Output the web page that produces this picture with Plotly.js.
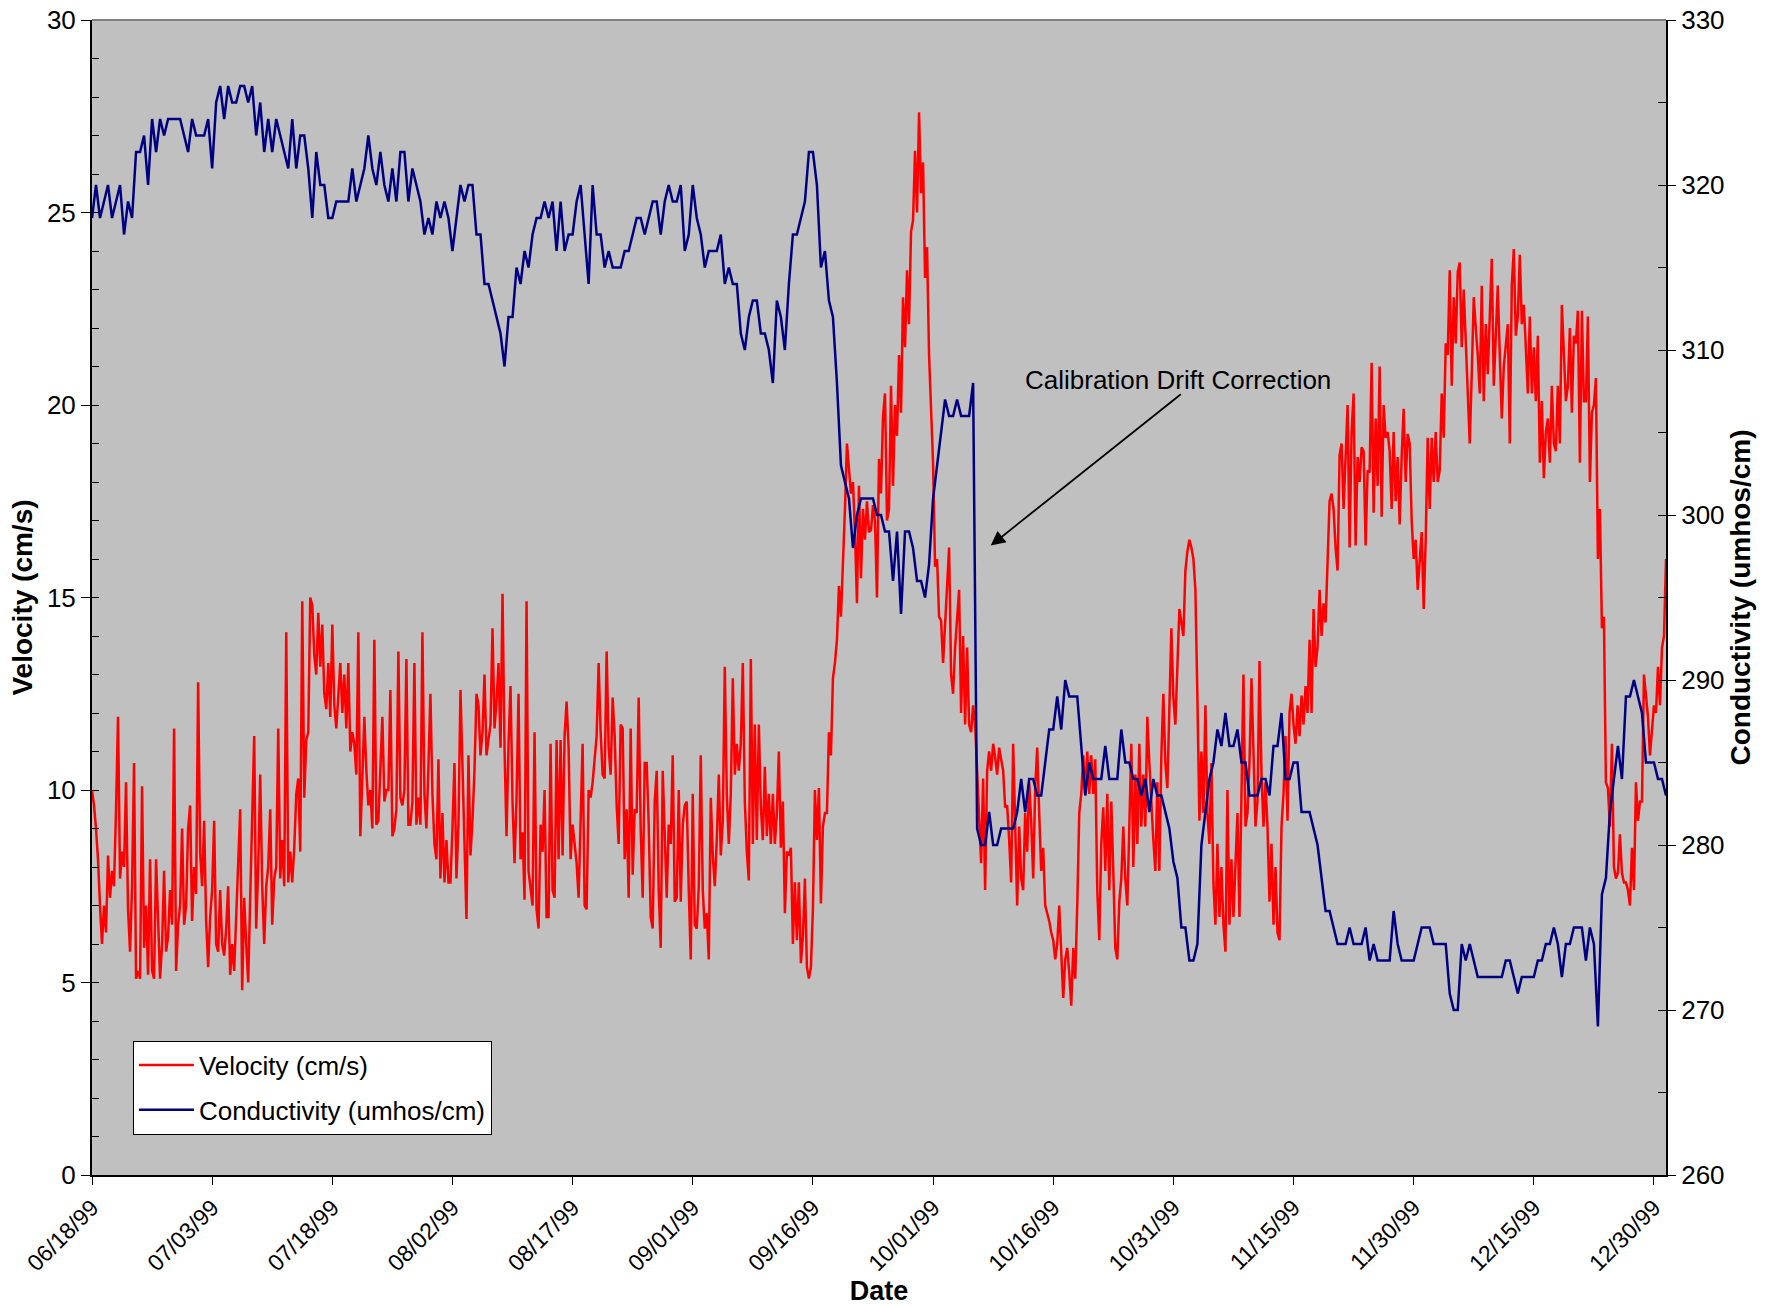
<!DOCTYPE html>
<html>
<head>
<meta charset="utf-8">
<script src="https://cdn.plot.ly/plotly-3.0.1.min.js"></script>
<style>html,body{margin:0;padding:0;background:#fff}#chart{width:1767px;height:1306px}</style>
</head>
<body>
<div id="chart"></div>
<script>
// ---------------- data ----------------
const seriesStartUTC = Date.UTC(1999, 5, 18);   // 06/18/99 00:00
const velocityStepHours = 6;
const conductivityStepHours = 12;

const velocityCms = [
10.0,9.6,9.0,8.2,7.0,6.0,7.0,6.3,8.3,7.2,
7.9,7.5,9.5,11.9,7.7,8.4,8.0,10.2,6.9,5.8,
7.5,10.7,5.1,5.3,5.1,10.1,5.9,7.0,5.2,8.2,
5.3,5.1,8.2,6.8,5.1,6.0,7.9,5.8,6.2,7.4,
6.5,11.6,5.3,6.5,7.0,9.0,6.5,7.0,9.0,9.6,
6.6,8.0,7.3,12.8,8.4,7.5,9.2,6.6,5.4,6.7,
7.4,9.2,6.0,5.8,7.4,6.0,5.7,6.4,7.5,5.2,
6.0,5.3,6.6,8.2,9.5,4.8,7.2,6.0,5.0,7.2,
9.0,11.4,6.4,8.0,10.4,7.5,6.0,7.5,8.0,9.5,
6.5,7.7,8.0,11.6,7.7,8.7,7.5,14.1,7.6,8.4,
7.6,8.5,9.9,10.3,8.4,14.9,9.8,11.3,11.5,15.0,
14.8,13.5,13.0,14.6,13.2,14.3,12.5,12.1,13.3,11.9,
14.3,12.2,11.6,12.5,13.3,12.0,13.0,11.6,13.3,11.0,
11.5,11.2,10.4,14.1,8.8,10.3,11.9,10.5,9.6,10.0,
9.0,13.9,9.1,9.2,10.5,11.9,9.7,10.0,10.0,12.6,
8.8,9.0,9.5,13.6,9.8,9.6,10.0,13.4,9.1,
9.1,9.7,13.3,9.1,9.8,9.1,14.1,9.9,9.0,10.6,
12.5,9.9,8.6,8.2,10.8,7.7,9.4,7.6,8.7,7.6,
7.6,9.0,10.7,7.7,9.1,12.6,10.5,8.5,6.65,10.9,
8.3,9.2,10.5,12.5,12.2,10.9,11.5,13.0,10.9,11.3,
11.7,14.2,11.6,12.3,13.3,11.1,15.1,11.1,8.8,11.2,
12.7,9.7,8.1,9.8,12.5,8.2,8.9,7.15,14.9,7.9,
7.4,7.0,11.5,6.9,6.4,9.1,8.4,10.0,6.7,6.7,
11.2,7.4,7.2,11.3,8.2,11.3,8.3,11.4,12.3,11.1,
8.2,9.1,8.6,8.1,7.2,9.4,11.2,7.0,6.9,10.0,
9.8,10.2,10.8,11.4,13.3,11.5,10.4,10.3,13.6,11.1,
10.4,12.4,11.4,9.6,8.6,11.7,11.6,8.2,9.5,7.2,
11.6,7.8,9.5,9.4,12.4,9.0,7.2,10.7,10.7,9.1,
6.7,6.4,9.7,10.5,7.4,5.9,10.5,9.1,7.2,9.1,
8.6,10.9,7.1,7.2,10.0,7.1,9.1,9.6,9.7,7.4,
5.6,9.9,6.5,6.4,7.5,10.9,7.4,6.4,6.8,5.6,
9.8,8.3,7.5,8.7,10.4,8.3,9.2,13.2,
9.9,8.6,9.9,12.9,10.4,11.2,10.5,11.2,13.3,9.7,
8.4,7.65,13.4,8.6,11.7,8.7,11.7,9.55,8.7,10.6,
8.8,9.9,8.6,9.9,8.6,9.4,11.0,8.5,9.7,6.8,
8.4,8.3,8.5,6.0,7.6,6.1,7.6,5.5,6.2,7.7,
5.4,5.1,5.4,6.9,10.0,8.7,10.05,7.05,9.05,9.4,
9.4,11.5,10.9,12.9,13.3,13.9,15.3,14.5,15.8,17.3,
19.0,18.2,17.7,18.0,16.7,14.85,17.9,15.5,17.3,16.5,
17.5,16.7,16.75,17.4,17.0,15.0,18.6,17.7,19.7,20.3,
17.0,17.3,20.5,17.9,20.0,19.2,21.3,19.8,22.8,21.5,
23.5,22.1,24.5,24.8,26.6,25.0,27.6,25.5,26.3,23.3,
24.1,21.3,19.8,18.5,15.8,16.0,14.5,14.4,13.3,14.35,
15.1,16.3,13.0,12.5,13.7,14.35,15.2,12.0,14.0,11.7,
13.7,11.7,11.5,12.2,11.7,10.5,9.4,8.1,10.3,7.4,
10.5,11.0,10.5,11.2,10.85,10.4,11.1,10.8,10.5,9.55,
9.6,8.7,7.6,11.2,8.7,7.0,9.05,7.7,7.4,9.4,
8.4,10.2,9.2,7.7,10.05,11.1,9.4,7.9,
8.5,7.0,6.8,6.6,6.3,6.1,5.6,6.0,7.0,5.9,
4.6,5.6,5.9,5.25,4.4,5.9,5.1,7.0,9.4,9.9,
10.9,9.9,11.0,9.9,10.9,9.9,10.8,7.4,6.1,8.6,
9.55,7.9,9.9,7.4,9.7,7.9,5.9,5.6,7.1,7.7,
9.05,7.7,7.0,9.05,11.2,8.0,10.4,8.6,11.2,9.05,
10.4,9.05,11.9,10.7,9.55,8.7,7.9,10.2,7.9,10.9,
12.5,10.7,10.05,12.4,14.2,12.4,11.7,13.2,14.7,14.35,
14.0,15.7,16.2,16.5,16.3,16.0,15.2,12.4,9.2,11.0,
9.4,12.2,9.4,8.6,10.7,7.6,6.5,8.6,6.7,8.0,
6.5,5.8,10.0,6.5,8.2,6.7,8.2,9.4,6.7,9.9,
13.0,9.05,9.4,10.7,12.9,11.0,9.05,9.7,13.35,10.4,
9.05,10.2,9.05,7.1,8.6,6.5,8.0,6.3,6.1,9.05,
9.9,11.4,9.2,12.0,12.5,11.7,11.2,12.2,11.4,12.45,
11.7,12.7,12.0,13.9,12.0,14.7,13.2,13.7,15.2,14.0,
14.85,14.35,16.2,17.5,17.7,17.3,16.3,15.7,18.7,19.0,
17.3,18.7,20.0,16.3,19.3,20.3,
16.35,18.65,18.0,18.9,18.8,16.35,18.3,18.25,21.1,17.2,
19.65,17.9,21.0,17.1,20.0,19.15,19.3,18.8,17.3,19.3,
17.5,18.65,16.9,18.65,19.9,18.0,19.25,19.0,17.0,16.0,
16.5,15.2,16.0,16.7,14.7,16.5,19.15,17.3,19.15,18.0,
19.3,18.0,18.3,20.3,19.15,21.6,21.3,23.5,20.5,22.8,
21.6,23.45,23.7,21.5,23.0,21.5,20.5,19.0,20.8,22.8,
22.0,21.3,20.3,23.1,20.1,22.1,20.8,22.6,23.8,20.5,
21.8,23.1,21.3,19.65,21.0,21.6,22.1,19.0,23.1,24.05,
21.8,22.3,23.9,22.1,22.6,21.5,20.3,22.3,20.3,21.5,
20.1,21.8,18.5,20.1,18.1,19.3,19.65,18.5,20.5,19.0,
18.8,20.5,19.0,22.6,21.1,20.1,20.5,22.0,19.8,21.8,
21.6,22.45,18.5,22.45,20.1,20.1,22.3,18.0,19.8,20.0,
20.7,16.0,17.3,14.2,14.5,10.2,10.05,9.05,11.2,8.0,
7.7,7.85,8.85,7.85,7.6,7.6,7.4,7.0,8.5,7.4,
10.2,9.2,9.7,9.7,13.0,12.4,11.9,10.9,11.5,12.2,
12.0,13.2,12.2,13.7,14.0,16.0
];

const conductivityUmhos = [
318,320,318,319,320,318,319,320,317,319,
318,322,322,323,320,324,322,324,323,324,
324,324,324,323,322,324,323,323,323,324,
321,325,326,324,326,325,325,326,326,325,
326,323,325,322,324,322,324,323,322,321,
324,321,323,323,321,318,322,320,320,318,
318,319,319,319,319,321,319,320,321,323,
321,320,322,320,319,321,319,322,322,319,
321,320,319,317,318,317,319,318,319,318,
316,318,320,319,320,320,317,317,314,314,
313,312,311,309,312,312,315,314,316,315,
317,318,318,319,318,319,316,319,316,317,
317,319,320,317,314,320,317,317,315,316,
315,315,315,316,316,317,318,318,317,318,
319,319,317,319,320,319,319,320,316,317,
320,318,317,315,316,316,316,317,314,
315,314,314,311,310,312,313,313,311,311,
310,308,313,312,310,314,317,317,318,319,
322,322,320,315,316,313,312,308,303,302,
301,298,300,301,301,301,301,300,300,299,
299,296,299,294,299,299,298,296,296,295,
297,301,303,305,307,306,306,307,306,306,
306,308,281,280,280,282,280,280,281,281,
281,281,282,284,282,284,284,283,
283,285,287,287,289,287,290,289,289,289,
286,283,285,284,284,284,286,284,284,284,
287,285,285,284,284,283,284,282,284,283,
283,282,281,279,278,275,275,273,273,274,
280,282,284,285,287,286,288,286,286,287,
285,285,283,283,283,284,284,283,286,286,
288,284,284,285,285,282,282,282,281,280,
278,276,276,275,274,274,274,275,
274,274,274,275,273,274,273,273,273,273,
276,274,273,273,273,273,274,275,275,275,
274,274,274,274,271,270,270,274,273,274,
273,272,272,272,272,272,272,272,273,273,
272,271,272,272,272,272,273,273,274,274,
275,274,272,274,274,275,275,275,273,275,
274,269,277,278,282,284,286,284,289,289,
290,289,288,285,285,285,284,284,283
];

const seriesNames = ['Velocity (cm/s)', 'Conductivity (umhos/cm)'];
const axisTitles = {x: 'Date', y: 'Velocity (cm/s)', y2: 'Conductivity (umhos/cm)'};
const annotationText = 'Calibration Drift Correction';
const xRange = ['1999-06-18 00:00', '1999-12-31 12:00'];
const xTickStart = '1999-06-18';
const xTickStepDays = 15;
const velocityRange = [0, 30];
const conductivityRange = [260, 330];

// ---------------- build ----------------
function timeStamps(n, stepHours) {
  const out = [];
  for (let i = 0; i < n; i++) {
    out.push(new Date(seriesStartUTC + i * stepHours * 3600000).toISOString().slice(0, 16).replace('T', ' '));
  }
  return out;
}

const FONT = '"Liberation Sans", Arial, Helvetica, sans-serif';
const dtick = xTickStepDays * 86400000;

const traces = [
  {
    type: 'scatter', mode: 'lines', name: seriesNames[0],
    x: timeStamps(velocityCms.length, velocityStepHours), y: velocityCms,
    xaxis: 'x', yaxis: 'y', legendgroup: 'v',
    line: {color: '#ff0000', width: 2.5}, hoverinfo: 'skip'
  },
  {
    type: 'scatter', mode: 'lines', name: seriesNames[1],
    x: timeStamps(conductivityUmhos.length, conductivityStepHours), y: conductivityUmhos,
    xaxis: 'x', yaxis: 'y2', legendgroup: 'c',
    line: {color: '#000080', width: 2.5}, hoverinfo: 'skip'
  }
];

const layout = {
  width: 1767, height: 1306,
  margin: {l: 92, r: 101, t: 20, b: 131, pad: 0},
  paper_bgcolor: '#ffffff', plot_bgcolor: '#c0c0c0',
  font: {family: FONT, color: '#000000', size: 24},
  showlegend: true,
  legend: {
    x: 0.026, y: 0.035, xanchor: 'left', yanchor: 'bottom',
    bgcolor: '#ffffff', bordercolor: '#000000', borderwidth: 1,
    font: {family: FONT, size: 26, color: '#000000'},
    traceorder: 'grouped', tracegroupgap: 8, itemwidth: 55
  },
  xaxis: {
    type: 'date', range: xRange, tick0: xTickStart, dtick: dtick,
    tickformat: '%m/%d/%y', tickangle: -45, tickfont: {size: 23, family: FONT},
    ticks: 'outside', ticklen: 8, tickwidth: 1, tickcolor: '#000000',
    showline: true, linecolor: '#000000', linewidth: 2,
    showgrid: false, zeroline: false,
    title: {text: axisTitles.x, font: {size: 27, weight: 'bold', family: FONT}, standoff: 4}
  },
  xaxis2: {
    type: 'date', overlaying: 'x', anchor: 'y', side: 'bottom',
    range: xRange, tick0: xTickStart, dtick: dtick,
    ticks: 'inside', ticklen: 8, tickwidth: 1, tickcolor: '#000000',
    showticklabels: false, showline: false, showgrid: false, zeroline: false
  },
  yaxis: {
    range: velocityRange, tick0: 0, dtick: 5,
    ticks: 'outside', ticklen: 9, tickwidth: 1, tickcolor: '#000000',
    minor: {dtick: 1, ticks: 'inside', ticklen: 7, tickwidth: 1, tickcolor: '#000000', showgrid: false},
    showline: true, linecolor: '#000000', linewidth: 2,
    showgrid: false, zeroline: false, tickfont: {size: 26, family: FONT},
    title: {text: axisTitles.y, font: {size: 28, weight: 'bold', family: FONT}, standoff: 6}
  },
  yaxis2: {
    overlaying: 'y', side: 'right', anchor: 'x',
    range: conductivityRange, tick0: 260, dtick: 10,
    ticks: 'outside', ticklen: 8, tickwidth: 1, tickcolor: '#000000',
    minor: {dtick: 5, ticks: 'inside', ticklen: 8, tickwidth: 1, tickcolor: '#000000', showgrid: false},
    showline: true, linecolor: '#000000', linewidth: 2,
    showgrid: false, zeroline: false, tickfont: {size: 26, family: FONT},
    title: {text: axisTitles.y2, font: {size: 28, weight: 'bold', family: FONT}, standoff: 5}
  },
  yaxis3: {
    overlaying: 'y', side: 'right', anchor: 'x',
    range: conductivityRange, tick0: 260, dtick: 10,
    ticks: 'inside', ticklen: 8, tickwidth: 1, tickcolor: '#000000',
    showticklabels: false, showline: false, showgrid: false, zeroline: false
  },
  shapes: [
    {type: 'line', xref: 'paper', yref: 'paper', x0: 0, x1: 1, y0: 1, y1: 1,
     line: {color: '#808080', width: 2}}
  ],
  annotations: [
    {xref: 'x', yref: 'y', x: '1999-10-31 15:20', y: 20.66, text: annotationText,
     showarrow: false, xanchor: 'center', yanchor: 'middle',
     font: {family: FONT, size: 26, color: '#000000'}},
    {xref: 'x', yref: 'y', x: '1999-10-08 04:48', y: 16.35, text: '',
     showarrow: true, ax: 191.6, ay: -152.4, arrowhead: 2, arrowsize: 1.6,
     arrowwidth: 1.8, arrowcolor: '#000000', standoff: 0, startstandoff: 0}
  ]
};

Plotly.newPlot('chart', traces, layout, {displayModeBar: false, staticPlot: true});
</script>
</body>
</html>
